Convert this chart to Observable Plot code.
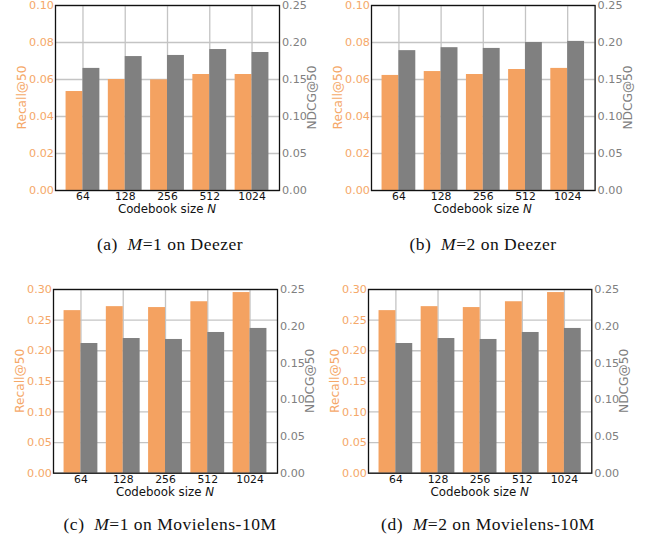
<!DOCTYPE html>
<html><head><meta charset="utf-8">
<script src="https://cdn.jsdelivr.net/npm/d3@7"></script>
<script src="https://cdn.jsdelivr.net/npm/@observablehq/plot@0.6"></script>
<style>
body{margin:0;background:#fff;}
#root{position:relative;width:652px;height:544px;overflow:hidden;background:#fff;}
.panel{position:absolute;}
.cap{position:absolute;font-family:"Liberation Serif",serif;font-size:17.5px;letter-spacing:0.5px;line-height:20px;color:#111;white-space:nowrap;transform:translateX(-50%);}
</style></head><body><div id="root"></div>
<script>
const sizes = ["64", "128", "256", "512", "1024"];
const recallDeezerM1 = [0.0535, 0.0600, 0.0598, 0.0627, 0.0627];
const ndcgDeezerM1 = [0.165, 0.181, 0.1825, 0.1905, 0.1865];
const recallDeezerM2 = [0.0622, 0.0643, 0.0627, 0.0654, 0.0660];
const ndcgDeezerM2 = [0.189, 0.193, 0.192, 0.200, 0.2015];
const recallMovM1 = [0.2655, 0.272, 0.2705, 0.280, 0.295];
const ndcgMovM1 = [0.1765, 0.1833, 0.182, 0.1915, 0.197];
const recallMovM2 = [0.2655, 0.272, 0.2705, 0.280, 0.295];
const ndcgMovM2 = [0.1765, 0.1833, 0.182, 0.1915, 0.197];
const recallTicksDeezer = [0, 0.02, 0.04, 0.06, 0.08, 0.10];
const recallTicksMov = [0, 0.05, 0.10, 0.15, 0.20, 0.25, 0.30];
const ndcgTicks = [0, 0.05, 0.10, 0.15, 0.20, 0.25];
const captionLetters = ["(a)", "(b)", "(c)", "(d)"];
const captionM = ["1", "2", "1", "2"];
const captionData = ["Deezer", "Deezer", "Movielens-10M", "Movielens-10M"];

const ORANGE = "#F4A261", GRAY = "#808080";
const root = document.getElementById("root");

function panel({recall, ndcg, leftTicks, left, top, fw, fh}) {
  const ML = 60, MT = 10, W = 330, H = 235;
  const leftMax = leftTicks[leftTicks.length - 1];
  const rightMax = ndcgTicks[ndcgTicks.length - 1];
  const k = leftMax / rightMax;
  const data = sizes.map((s, i) => ({i, s, r: recall[i], n: ndcg[i] * k}));
  const svg = Plot.plot({
    width: W, height: H,
    marginLeft: ML, marginRight: W - ML - fw, marginTop: MT, marginBottom: H - MT - fh,
    x: {type: "linear", domain: [-0.65, 4.65], axis: null},
    y: {domain: [0, leftMax], axis: null},
    style: {fontFamily: "DejaVu Sans", fontSize: "11px", background: "transparent", overflow: "visible"},
    marks: [
      Plot.gridY(leftTicks, {stroke: "#c4c4c4", strokeOpacity: 1, strokeWidth: 1.3}),
      Plot.gridX(d3.range(sizes.length), {stroke: "#c4c4c4", strokeOpacity: 1, strokeWidth: 1.3}),
      Plot.rectY(data, {x1: d => d.i - 0.4, x2: d => d.i, y: "r", fill: ORANGE, inset: 0}),
      Plot.rectY(data, {x1: d => d.i, x2: d => d.i + 0.4, y: "n", fill: GRAY, inset: 0}),
      Plot.axisY(leftTicks, {anchor: "left", tickSize: 0, tickPadding: 1.5, tickFormat: d => d.toFixed(2), color: "#F5A869", fontSize: 11.2, label: null}),
      Plot.axisY(ndcgTicks.map(t => t * k), {anchor: "right", tickSize: 0, tickPadding: 2.5, tickFormat: d => (d / k).toFixed(2), color: GRAY, fontSize: 11.2, label: null}),
      Plot.axisX(d3.range(sizes.length), {anchor: "bottom", tickSize: 0, tickPadding: 2, tickFormat: i => sizes[i], color: "#111", fontSize: 10.8, label: null}),
      Plot.frame({stroke: "#111", strokeWidth: 1.3})
    ]
  });
  const s = d3.select(svg);
  const cy = MT + fh / 2;
  s.append("text").attr("transform", `translate(${ML - 33},${cy}) rotate(-90)`)
    .attr("text-anchor", "middle").attr("dominant-baseline", "central")
    .attr("fill", "#F5A869").attr("font-size", 12.2).attr("font-family", "DejaVu Sans").text("Recall@50");
  s.append("text").attr("transform", `translate(${ML + fw + 33},${cy}) rotate(-90)`)
    .attr("text-anchor", "middle").attr("dominant-baseline", "central")
    .attr("fill", GRAY).attr("font-size", 12.2).attr("font-family", "DejaVu Sans").text("NDCG@50");
  const xl = s.append("text").attr("x", ML + fw / 2).attr("y", MT + fh + 19)
    .attr("text-anchor", "middle").attr("dominant-baseline", "central")
    .attr("fill", "#111").attr("font-size", 11.8).attr("font-family", "DejaVu Sans");
  xl.append("tspan").text("Codebook size ");
  xl.append("tspan").attr("font-style", "italic").text("N");
  const div = document.createElement("div");
  div.className = "panel";
  div.style.left = (left - ML) + "px";
  div.style.top = (top - MT) + "px";
  div.appendChild(svg);
  root.appendChild(div);
}

panel({recall: recallDeezerM1, ndcg: ndcgDeezerM1, leftTicks: recallTicksDeezer, left: 55, top: 5, fw: 224, fh: 185});
panel({recall: recallDeezerM2, ndcg: ndcgDeezerM2, leftTicks: recallTicksDeezer, left: 370.7, top: 5, fw: 223.6, fh: 185});
panel({recall: recallMovM1, ndcg: ndcgMovM1, leftTicks: recallTicksMov, left: 52.7, top: 289, fw: 224, fh: 183.7});
panel({recall: recallMovM2, ndcg: ndcgMovM2, leftTicks: recallTicksMov, left: 367.7, top: 289, fw: 223.3, fh: 183.7});

const capPos = [[170, 244], [483, 244], [170, 524], [488, 524]];
capPos.forEach(([cx, cy], j) => {
  const d = document.createElement("div");
  d.className = "cap";
  d.style.left = cx + "px";
  d.style.top = (cy - 10) + "px";
  d.innerHTML = `${captionLetters[j]}&nbsp;&nbsp;<i>M</i>=${captionM[j]} on ${captionData[j]}`;
  root.appendChild(d);
});
</script>
</body></html>
